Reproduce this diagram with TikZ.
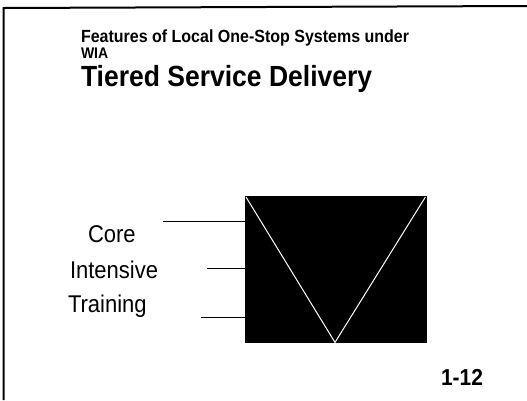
\documentclass[tikz,border=0pt]{standalone}
\usepackage{fontspec}
\usepackage{graphicx}
\setmainfont{Liberation Sans}
\newcommand{\tallt}[1]{\scalebox{1}[1.1]{#1}}
\begin{document}
\begin{tikzpicture}[x=1pt,y=-1pt,
  txt/.style={anchor=base west,inner sep=0pt,outer sep=0pt},
  lbl/.style={txt,font=\fontsize{22}{26}\selectfont},
  tick/.style={line width=1pt,black},
  frame/.style={line width=2pt,black},
  vline/.style={line width=1pt,white}]
\useasboundingbox (0,0) rectangle (527,400);
% frame (open on right and bottom)
\draw[frame] (3.5,400) -- (3.5,8) -- (527,6);
% titles
\node[txt,font=\bfseries\fontsize{16}{18}\selectfont] (t1) at (81,42.5) {\tallt{Features of Local One-Stop Systems under}};
\node[txt,font=\bfseries\fontsize{14}{17}\selectfont] (t2) at (81,58) {\tallt{WIA}};
\node[txt,font=\bfseries\fontsize{26.5}{30}\selectfont] (t3) at (81,86) {\tallt{Tiered Service Delivery}};
% black box
\node[draw=black,fill=black,inner sep=0pt,minimum width=181pt,minimum height=146pt,anchor=north west] (box) at (245,196) {};
\draw[vline] ([xshift=1pt,yshift=-1pt]box.north west) coordinate (vl) -- (box.south west -| 335,0) coordinate (vb) -- ([xshift=-1pt,yshift=-1pt]box.north east) coordinate (vr);
% labels
\node[lbl] (core) at (88,242) {\tallt{Core}};
\node[lbl] (int) at (70,278) {\tallt{Intensive}};
\node[lbl] (tr) at (68,312) {\tallt{Training}};
% ticks
\coordinate (c1) at (163,221);
\coordinate (c2) at (207,268);
\coordinate (c3) at (201,317);
\draw[tick] (c1) -- (box.west |- c1);
\draw[tick] (c2) -- (box.west |- c2);
\draw[tick] (c3) -- (box.west |- c3);
% page number
\node[txt,font=\bfseries\fontsize{21}{24}\selectfont] (pg) at (441,385) {\tallt{1-12}};
\end{tikzpicture}
\end{document}
